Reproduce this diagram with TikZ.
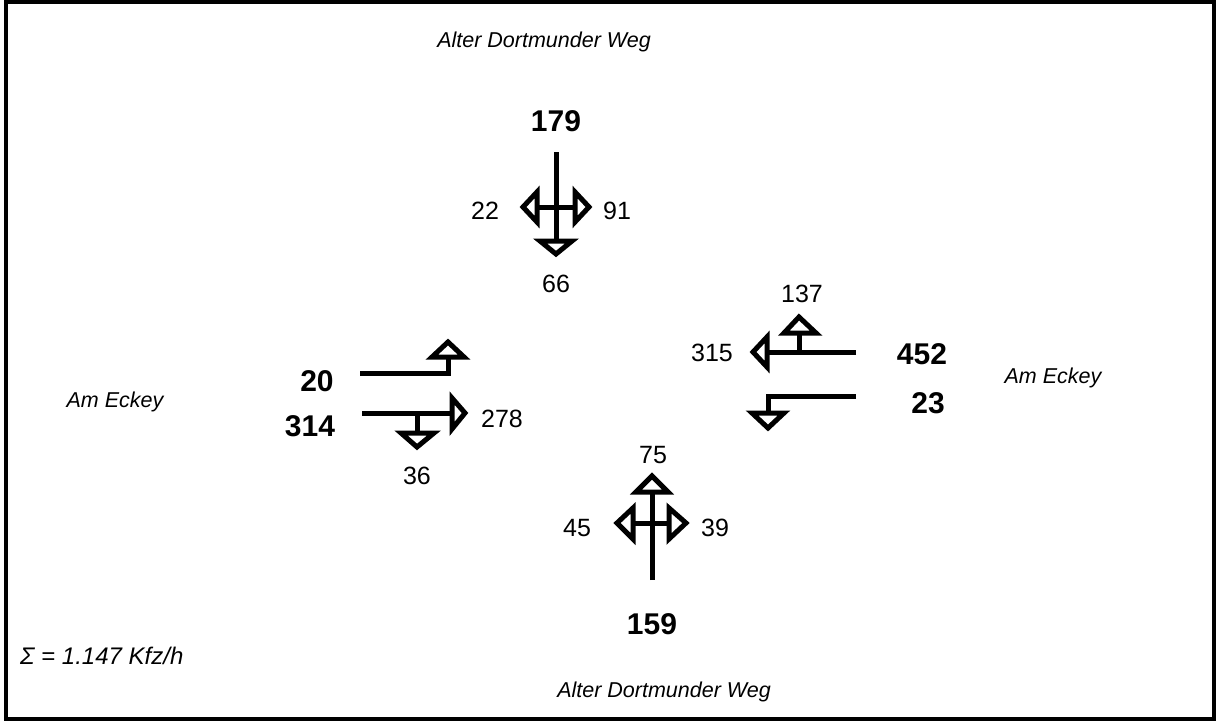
\documentclass[tikz,border=0pt]{standalone}
\usepackage{fontspec}
\setmainfont{Liberation Sans}
\begin{document}
\begin{tikzpicture}[x=1pt,y=-1pt,
  flow/.style={line width=5pt,line cap=butt,line join=miter},
  headshape/.style={line width=5pt,line join=miter,fill=white},
  big/.style={font=\fontsize{30}{34}\selectfont\bfseries,anchor=base,inner sep=0pt},
  small/.style={font=\fontsize{25}{29}\selectfont,anchor=base,inner sep=0pt},
  street/.style={font=\fontsize{21.5}{25}\selectfont\itshape,anchor=base,inner sep=0pt}]
\useasboundingbox (0,0) rectangle (1216,721);
\draw[line width=3.5pt] (6,2) rectangle (1214,719);

% street names
\node[street] (s1) at (544,47) {Alter Dortmunder Weg};
\node[street] (s2) at (664,697) {Alter Dortmunder Weg};
\node[street] (s3) at (115,407) {Am Eckey};
\node[street] (s4) at (1053,383) {Am Eckey};
\node[street,anchor=base west,font=\fontsize{24}{28}\selectfont\itshape] (sum) at (20,664) {Σ = 1.147 Kfz/h};

% top approach
\node[big] (n179) at (556,131) {179};
\node[small] (n22) at (485,219) {22};
\node[small] (n91) at (617,219) {91};
\node[small] (n66) at (556,292) {66};
\coordinate (tA) at (556,152);
\coordinate (tB) at (556,241);
\draw[flow] (tA) -- (tB);
\draw[flow] (537,207) -- (575,207);
\draw[headshape] (523,207) -- (537,192) -- (537,222) -- cycle;
\draw[headshape] (589,207) -- (575,192) -- (575,222) -- cycle;
\draw[headshape] (556,254) -- (540,241) -- (572,241) -- cycle;

% left approach
\node[big] (n20) at (317,391) {20};
\node[big] (n314) at (310,436) {314};
\node[small] (n278) at (502,427) {278};
\node[small] (n36) at (417,484) {36};
\draw[flow] (360,373) -- (448,373) -- (448,357);
\draw[headshape] (448,342) -- (432,357) -- (464,357) -- cycle;
\draw[flow] (362,413) -- (452,413);
\draw[headshape] (465,413) -- (452,398) -- (452,429) -- cycle;
\draw[flow] (417,413) -- (417,433);
\draw[headshape] (417,447) -- (401,433) -- (434,433) -- cycle;

% right approach
\node[small] (n137) at (802,302) {137};
\node[small] (n315) at (712,361) {315};
\node[big] (n452) at (922,364) {452};
\node[big] (n23) at (928,413) {23};
\draw[flow] (856,352) -- (767,352);
\draw[headshape] (753,352) -- (767,337) -- (767,367) -- cycle;
\draw[flow] (799,352) -- (799,333);
\draw[headshape] (799,317) -- (784,333) -- (816,333) -- cycle;
\draw[flow] (856,396) -- (768,396) -- (768,413);
\draw[headshape] (768,428) -- (752,413) -- (784,413) -- cycle;

% bottom approach
\node[small] (n75) at (653,463) {75};
\node[small] (n45) at (577,536) {45};
\node[small] (n39) at (715,536) {39};
\node[big] (n159) at (652,634) {159};
\draw[flow] (652,580) -- (652,492);
\draw[headshape] (652,476) -- (636,492) -- (668,492) -- cycle;
\draw[flow] (633,523) -- (669,523);
\draw[headshape] (617,523) -- (633,508) -- (633,539) -- cycle;
\draw[headshape] (686,523) -- (669,508) -- (669,539) -- cycle;
\end{tikzpicture}
\end{document}
